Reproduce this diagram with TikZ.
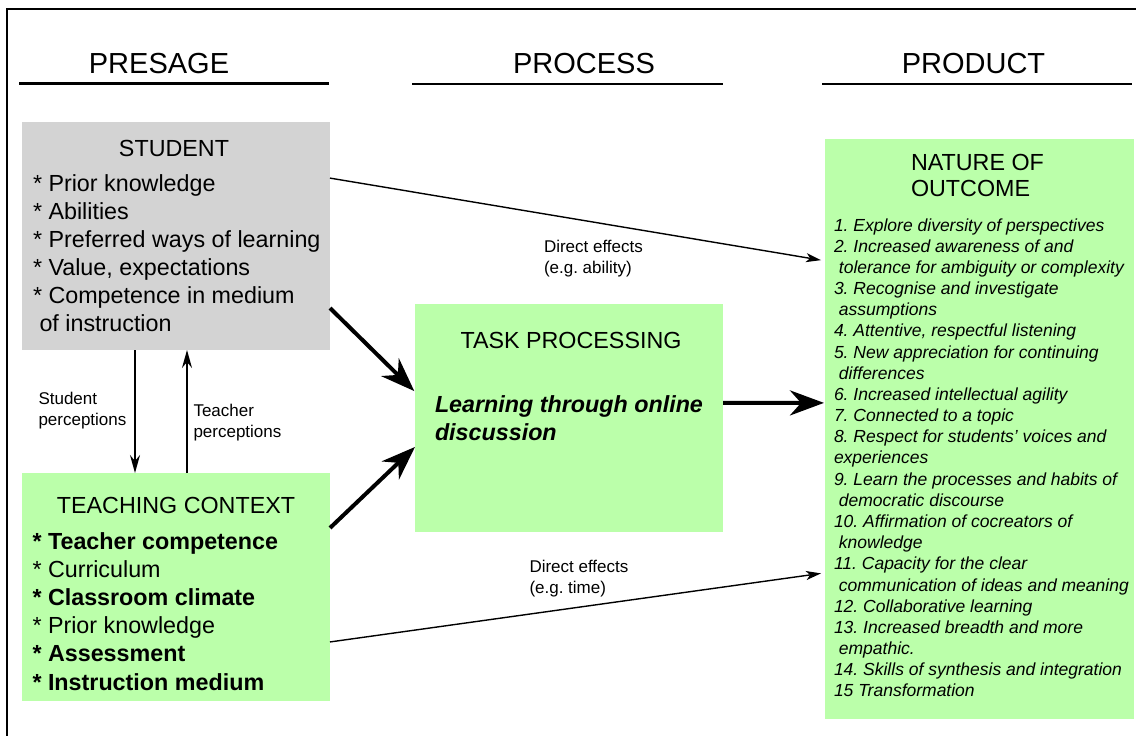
\documentclass[tikz,border=0pt]{standalone}
\usepackage{fontspec}
\setmainfont{Liberation Sans}
\usetikzlibrary{arrows.meta,calc}
\definecolor{boxgreen}{HTML}{BBFFAA}
\definecolor{boxgray}{HTML}{D3D3D3}
\newcommand{\fTitle}{\fontsize{29}{34}\selectfont}
\newcommand{\fHead}{\fontsize{23.3}{28}\selectfont}
\newcommand{\fList}{\fontsize{17.5}{21}\selectfont\itshape}
\newcommand{\fSmall}{\fontsize{17}{21}\selectfont}
\frenchspacing
\begin{document}
\frenchspacing
\begin{tikzpicture}[x=1pt,y=-1pt,
  every node/.append style={execute at begin node=\frenchspacing},
  panel/.style={anchor=north west, inner sep=0pt, outer sep=0pt, draw=none},
  txt/.style={anchor=base west, inner sep=0pt, outer sep=0pt},
  ctxt/.style={anchor=base, inner sep=0pt, outer sep=0pt},
  uline/.style={line width=2.6pt},
  thickarrow/.style={line width=4pt, -{Stealth[length=34pt,width=25pt,inset=11pt]}},
  thinarrow/.style={line width=1.4pt, -{Stealth[length=15pt,width=9pt,inset=4pt]}},
  vertarrow/.style={line width=1.8pt, -{Stealth[length=18pt,width=10pt,inset=6pt]}}]
\useasboundingbox (0,0) rectangle (1136,736);
% frame
\draw[line width=2pt] (7.3,736) -- (7.3,8.5) -- (1136,8.5);
% column titles
\node[ctxt, font=\fTitle] (presage) at (159,73) {PRESAGE};
\node[ctxt, font=\fTitle] (process) at (584,73) {PROCESS};
\node[ctxt, font=\fTitle] (product) at (973.5,73) {PRODUCT};
\draw[uline] (19,83.5) -- (329,83.5);
\draw[uline] (412,84) -- (723,84);
\draw[uline] (822,84) -- (1132,84);
% boxes
\node[panel, fill=boxgray, minimum width=308pt, minimum height=228pt] (student) at (22,122) {};
\node[panel, fill=boxgreen, minimum width=308pt, minimum height=228pt] (teach) at (22,473) {};
\node[panel, fill=boxgreen, minimum width=308pt, minimum height=228pt] (task) at (415,304) {};
\node[panel, fill=boxgreen, minimum width=309pt, minimum height=580pt] (outcome) at (825,139) {};
% student text
\node[ctxt, font=\fHead] (stutitle) at (174,156) {STUDENT};
\foreach \t [count=\i] in {{* Prior knowledge},{* Abilities},{* Preferred ways of learning},{* Value, expectations},{* Competence in medium},{\hspace*{6.5pt}of instruction}}
  \node[txt, font=\fHead] (s\i) at (33,{191+28*(\i-1)}) {\t};
% teaching context text
\node[ctxt, font=\fHead] (teachtitle) at (176,513) {TEACHING CONTEXT};
\foreach \t [count=\i] in {{\textbf{* Teacher competence}},{* Curriculum},{\textbf{* Classroom climate}},{* Prior knowledge},{\textbf{* Assessment}},{\textbf{* Instruction medium}}}
  \node[txt, font=\fHead] (t\i) at (32.5,{549+28.2*(\i-1)}) {\t};
% task text
\node[ctxt, font=\fHead] (tasktitle) at (571,348.5) {TASK PROCESSING};
\node[txt, font=\fHead\bfseries\itshape] (learn1) at (435,412) {Learning through online};
\node[txt, font=\fHead\bfseries\itshape] (learn2) at (435,440) {discussion};
% outcome text
\node[txt, font=\fHead] (out1) at (911,170) {NATURE OF};
\node[txt, font=\fHead] (out2) at (911,196.5) {OUTCOME};
\foreach \t [count=\i from 0] in {
{1. Explore diversity of perspectives},
{2. Increased awareness of and},
{\hspace*{4.9pt}tolerance for ambiguity or complexity},
{3. Recognise and investigate},
{\hspace*{4.9pt}assumptions},
{4. Attentive, respectful listening},
{5. New appreciation for continuing},
{\hspace*{4.9pt}differences},
{6. Increased intellectual agility},
{7. Connected to a topic},
{8. Respect for students’ voices and},
{experiences},
{9. Learn the processes and habits of},
{\hspace*{4.9pt}democratic discourse},
{10. Affirmation of cocreators of},
{\hspace*{4.9pt}knowledge},
{11. Capacity for the clear},
{\hspace*{4.9pt}communication of ideas and meaning},
{12. Collaborative learning},
{13. Increased breadth and more},
{\hspace*{4.9pt}empathic.},
{14. Skills of synthesis and integration},
{15 Transformation}}
  \node[txt, font=\fList] (o\i) at (834,{231+21.18*\i}) {\t};
% perception labels
\node[txt, font=\fSmall] (sp1) at (38.5,404) {Student};
\node[txt, font=\fSmall] (sp2) at (38.5,425) {perceptions};
\node[txt, font=\fSmall] (tp1) at (193.5,416) {Teacher};
\node[txt, font=\fSmall] (tp2) at (193.5,437) {perceptions};
% direct effects labels
\node[txt, font=\fSmall] (de1) at (544,252.5) {Direct effects};
\node[txt, font=\fSmall] (de2) at (544,273.5) {(e.g. ability)};
\node[txt, font=\fSmall] (de3) at (529.5,572.5) {Direct effects};
\node[txt, font=\fSmall] (de4) at (529.5,593.5) {(e.g. time)};
% connectors
\draw[thinarrow, shorten >=4pt] ($(student.north east)!0.246!(student.south east)$) -- ($(outcome.north west)!0.21!(outcome.south west)$);
\draw[thickarrow, shorten >=1pt] ($(student.north east)!0.816!(student.south east)$) -- ($(task.north west)!0.385!(task.south west)$);
\draw[thickarrow] ($(teach.north east)!0.241!(teach.south east)$) -- ($(task.north west)!0.627!(task.south west)$);
\draw[thickarrow, shorten >=1pt] ($(task.north east)!0.434!(task.south east)$) -- ($(outcome.north west)!0.455!(outcome.south west)$);
\draw[thinarrow, shorten >=4pt] ($(teach.north east)!0.741!(teach.south east)$) -- ($(outcome.north west)!0.748!(outcome.south west)$);
\draw[vertarrow] ($(student.south west)+(113,0)$) -- ($(teach.north west)+(113,0)$);
\draw[vertarrow] ($(teach.north west)+(165,0)$) -- ($(student.south west)+(165,0)$);
\end{tikzpicture}
\end{document}
